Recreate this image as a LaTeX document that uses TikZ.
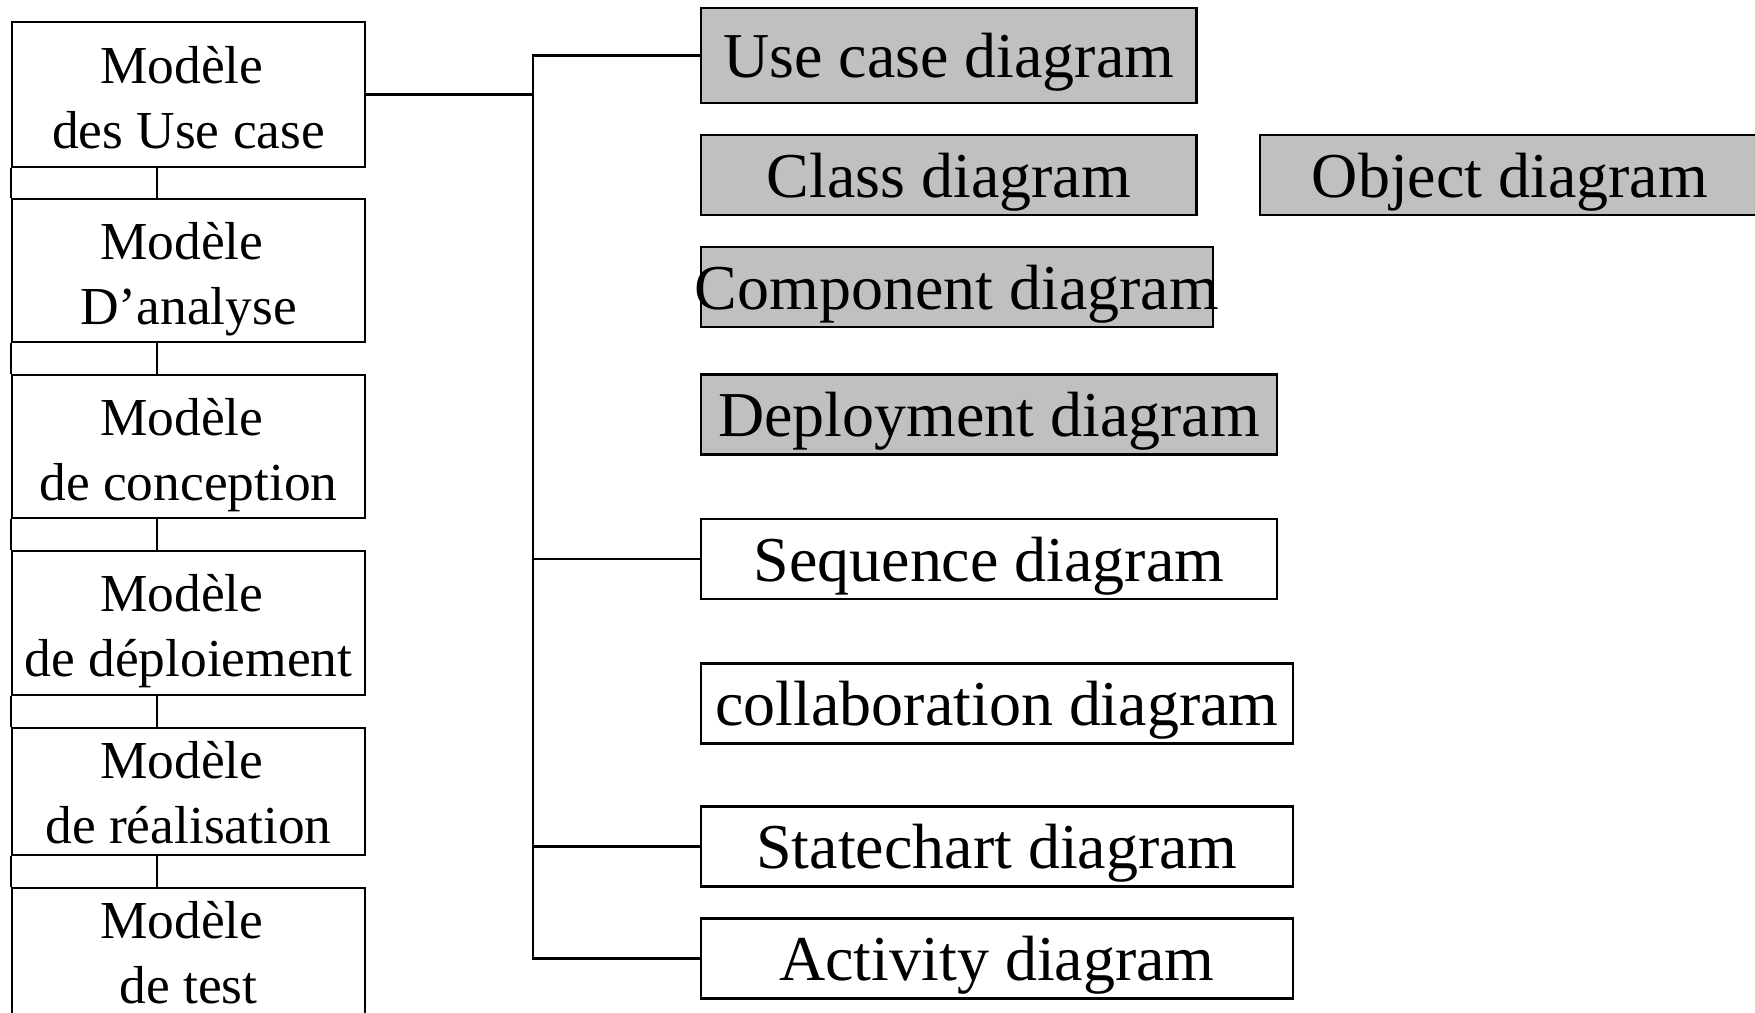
\documentclass[tikz,border=0pt]{standalone}
\usepackage{fontspec}
\setmainfont{Liberation Serif}
\definecolor{boxgray}{RGB}{192,192,192}
\tikzset{
  model/.style={draw=black, line width=0.6pt, fill=white, inner sep=0pt,
    minimum width=35.3mm, align=center, text depth=0pt, text height=30.5pt,
    font=\fontsize{15.2}{18.5}\selectfont},
  diag/.style={draw=black, line width=0.6pt, fill=white, inner sep=0pt,
    minimum height=8mm, text depth=0pt, font=\fontsize{18.2}{22}\selectfont},
  shaded/.style={diag, fill=boxgray},
  link/.style={draw=black, line width=0.6pt}
}
\newcommand{\modele}{Modèle\hspace*{0.25em}}
\begin{document}
\begin{tikzpicture}[x=0.1mm, y=-0.1mm]
  \path[use as bounding box] (0,0) rectangle (1755,1013);
  \clip (0,0) rectangle (1755,1013);
  \fill[white] (0,0) rectangle (1755,1013);

  % chain of models on the left
  \node[model, minimum height=14.5mm] (m1) at (188.5,94.5)  {\modele\\des Use case};
  \node[model, minimum height=14.3mm] (m2) at (188.5,270.5) {\modele\\D’analyse};
  \node[model, minimum height=14.3mm] (m3) at (188.5,446.5) {\modele\\de conception};
  \node[model, minimum height=14.4mm] (m4) at (188.5,623)   {\modele\\de déploiement};
  \node[model, minimum height=12.7mm, text height=29.5pt] (m5) at (188.5,791.5) {\modele\\de réalisation};
  \node[model, minimum height=13.1mm, text height=28.5pt] (m6) at (188.5,953.5) {\modele\\de test};

  % UML diagrams on the right
  \node[shaded, minimum width=49.55mm, minimum height=9.5mm] (usecase) at (948.75,55.5) {Use case diagram};
  \node[shaded, minimum width=49.55mm] (class)      at (948.75,175)  {Class diagram};
  \node[shaded, minimum width=50mm]    (object)     at (1510,175)    {Object diagram};
  \node[shaded, minimum width=51.2mm]  (component)  at (957,287)     {\makebox[0pt][c]{Component diagram}};
  \node[shaded, minimum width=57.6mm]  (deployment) at (989,414.5)   {Deployment diagram};
  \node[diag,   minimum width=57.6mm]  (sequence)   at (989,559)     {Sequence diagram};
  \node[diag,   minimum width=59.2mm]  (collab)     at (997,703.5)   {collaboration diagram};
  \node[diag,   minimum width=59.2mm]  (statechart) at (997,846.5)   {Statechart diagram};
  \node[diag,   minimum width=59.2mm]  (activity)   at (997,958.5)   {Activity diagram};

  % links between consecutive models
  \coordinate (lx) at (157,0);
  \foreach \a/\b in {m1/m2, m2/m3, m3/m4, m4/m5, m5/m6} {
    \draw[link] (\a.south west) -- (\b.north west);
    \draw[link] (\a.south -| lx) -- (\b.north -| lx);
  }

  % trunk joining the models to the diagrams
  \coordinate (tx) at (533,0);
  \draw[link] (usecase.west) -- (usecase.west -| tx) -- (activity.west -| tx) -- (activity.west);
  \draw[link] (m1.east) -- (m1.east -| tx);
  \draw[link] (sequence.west) -- (sequence.west -| tx);
  \draw[link] (statechart.west) -- (statechart.west -| tx);
\end{tikzpicture}
\end{document}
